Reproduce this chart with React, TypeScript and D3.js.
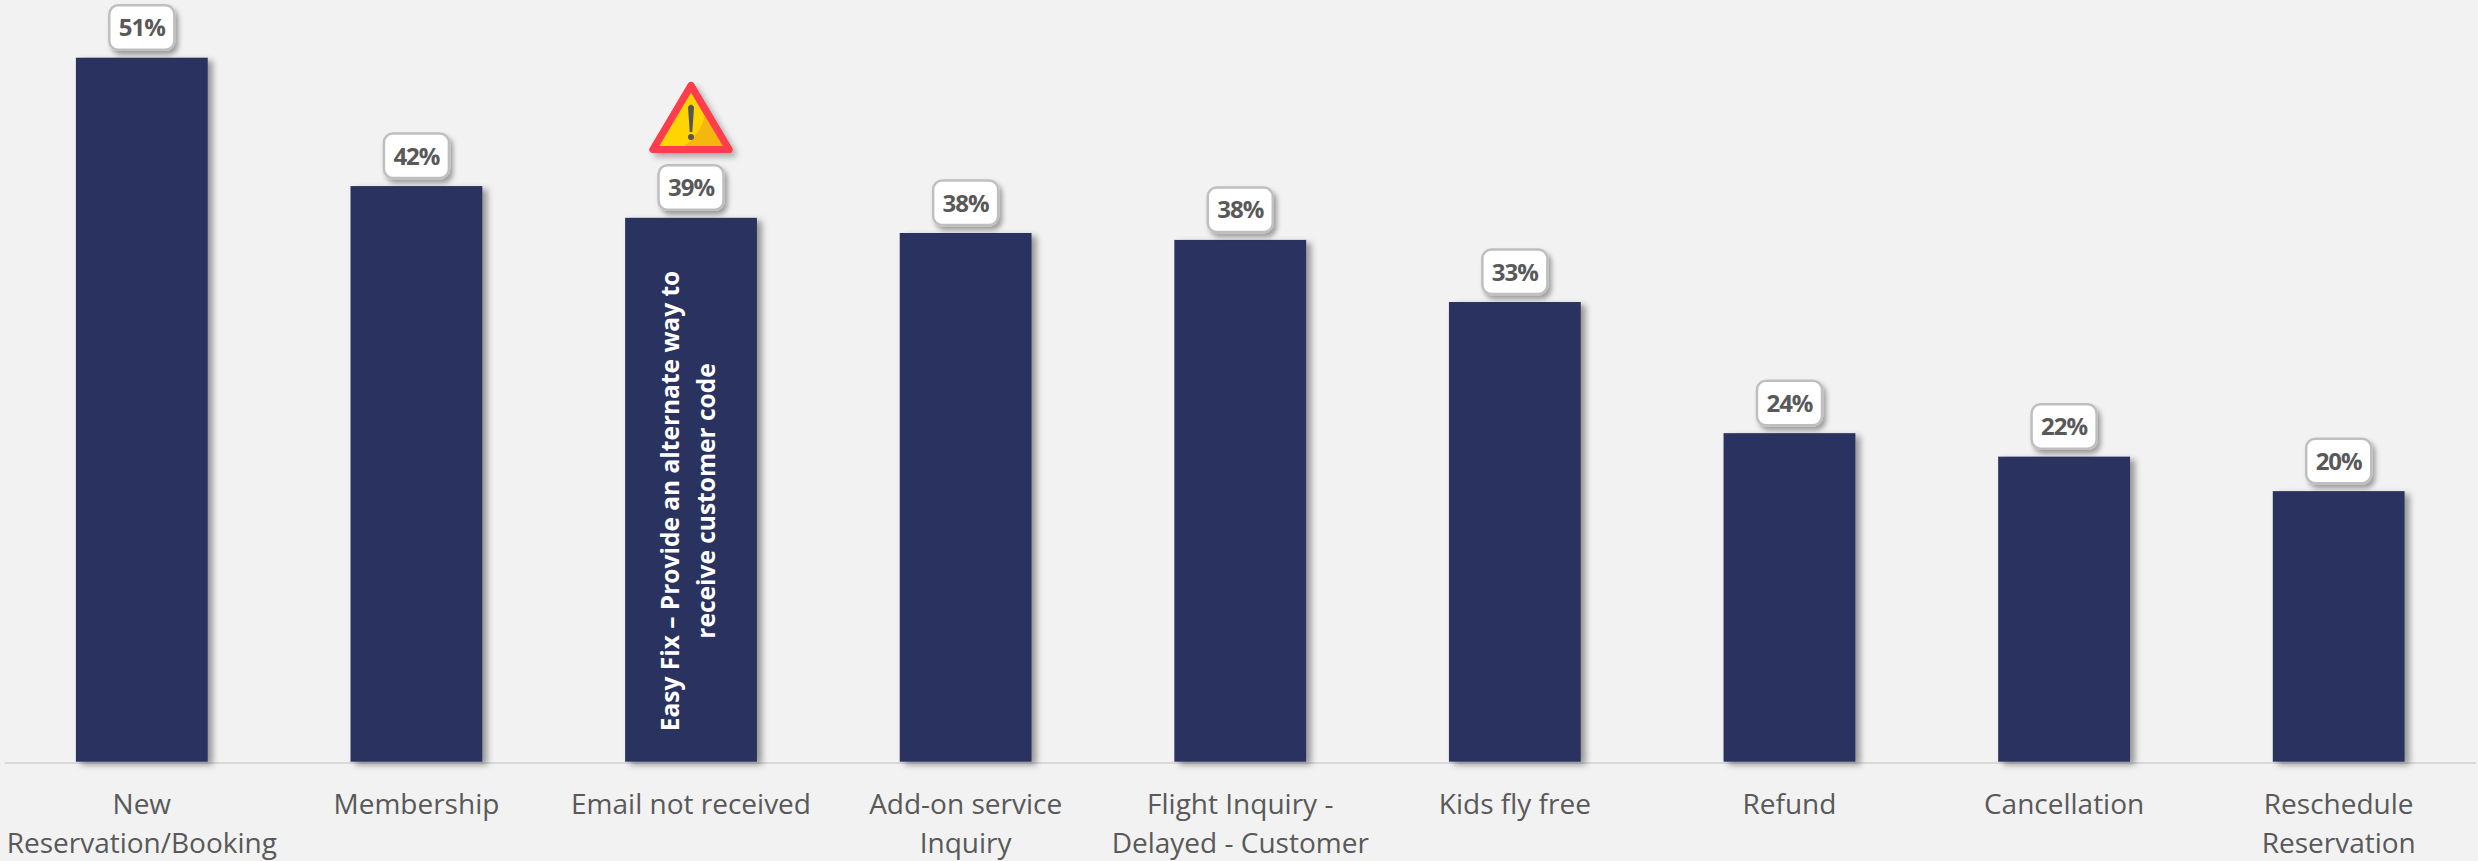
import React, { useEffect } from "react";
import * as d3 from "d3";

const WIDTH = 2478;
const HEIGHT = 861;

const categories = [
  ["New", "Reservation/Booking"],
  ["Membership"],
  ["Email not received"],
  ["Add-on service", "Inquiry"],
  ["Flight Inquiry -", "Delayed - Customer"],
  ["Kids fly free"],
  ["Refund"],
  ["Cancellation"],
  ["Reschedule", "Reservation"],
];
const shares = [51, 41.7, 39.4, 38.3, 37.8, 33.3, 23.8, 22.1, 19.6];
const noteLines = ["Easy Fix – Provide an alternate way to", "receive customer code"];
const flaggedIndex = 2;

const NAVY = "#29305f";
const TEXT = "#595959";
const FONT = "'Open Sans', sans-serif";

export default function App() {
  useEffect(() => {
    document.body.style.margin = "0";
    document.body.style.background = "#f2f2f2";
  }, []);

  const ids = d3.range(categories.length);
  const x = d3.scaleBand<number>().domain(ids).range([4.5, 2476]).paddingInner(0.52).paddingOuter(0.26);
  const y = d3.scaleLinear().domain([0, 51]).range([761.7, 57.7]);
  const pct = (v: number) => d3.format(".0f")(v) + "%";

  const flagCx = x(flaggedIndex)! + x.bandwidth() / 2;
  const noteCy = 501;

  return (
    <svg width={WIDTH} height={HEIGHT} viewBox={`0 0 ${WIDTH} ${HEIGHT}`} style={{ display: "block", background: "#f2f2f2" }}>
      <defs>
        <filter id="barShadow" x="-15%" y="-5%" width="130%" height="110%">
          <feDropShadow dx="5" dy="3" stdDeviation="3" floodColor="#000" floodOpacity="0.38" />
        </filter>
        <filter id="boxShadow" x="-25%" y="-25%" width="150%" height="160%">
          <feDropShadow dx="3" dy="4" stdDeviation="2.5" floodColor="#000" floodOpacity="0.35" />
        </filter>
        <filter id="iconShadow" x="-20%" y="-20%" width="145%" height="145%">
          <feDropShadow dx="4" dy="4" stdDeviation="3" floodColor="#000" floodOpacity="0.3" />
        </filter>
      </defs>

      <line x1={4.5} x2={2476} y1={763} y2={763} stroke="#d9d9d9" strokeWidth={2} />

      {ids.map((i) => {
        const bx = x(i)!;
        const bw = x.bandwidth();
        const top = y(shares[i]);
        const cx = bx + bw / 2;
        return (
          <g key={i}>
            <rect x={bx} y={top} width={bw} height={y(0) - top} fill={NAVY} filter="url(#barShadow)" />
            <rect x={cx - 32.5} y={top - 52.5} width={65} height={44.5} rx={9} fill="#fff" stroke="#bfbfbf" strokeWidth={2.5} filter="url(#boxShadow)" />
            <text x={cx} y={top - 21.5} textAnchor="middle" fontFamily={FONT} fontWeight={700} fontSize={24} letterSpacing={-1} fill={TEXT}>
              {pct(shares[i])}
            </text>
            {categories[i].map((line, k) => (
              <text key={k} x={cx} y={814 + k * 39} textAnchor="middle" fontFamily={FONT} fontSize={28} fill={TEXT}>
                {line}
              </text>
            ))}
          </g>
        );
      })}

      {/* Callout inside the flagged bar, read bottom to top */}
      <g transform={`translate(${flagCx},${noteCy}) rotate(-90)`} fill="#fff" fontFamily={FONT} fontWeight={700} fontSize={24.5} textAnchor="middle">
        {noteLines.map((line, k) => (
          <text key={k} x={0} y={-12 + k * 36}>
            {line}
          </text>
        ))}
      </g>

      {/* Warning sign above the flagged bar */}
      <g transform={`translate(${flagCx},0)`}>
        <g filter="url(#iconShadow)">
          <path d="M0,85.5 L-38,149.5 L38,149.5 Z" fill="#ffd400" stroke="#ff3d4c" strokeWidth={7} strokeLinejoin="round" />
        </g>
        <path d="M15,109 Q12,135 -12,149.5 L38,149.5 Z" fill="#f5b60d" />
        <path d="M0,85.5 L-38,149.5 L38,149.5 Z" fill="none" stroke="#ff3d4c" strokeWidth={7} strokeLinejoin="round" />
        <path d="M-3,107 Q0,102 3,107 L1.3,132 L-1.3,132 Z" fill="#555" />
        <circle cx={0} cy={137} r={3} fill="#555" />
      </g>
    </svg>
  );
}
